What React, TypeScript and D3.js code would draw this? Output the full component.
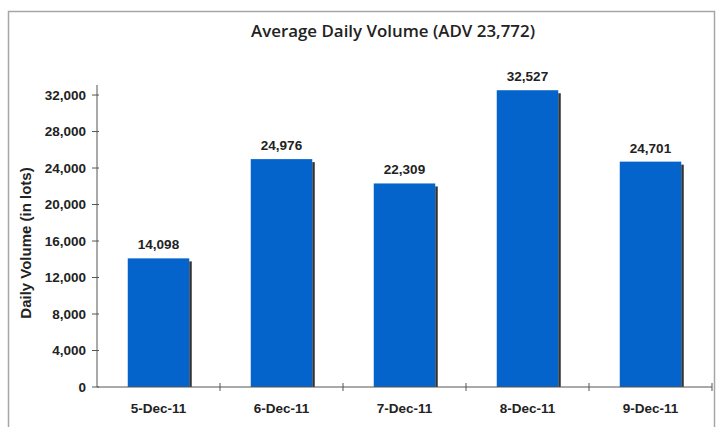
import React from "react";
import * as d3 from "d3";

const dates = ["5-Dec-11", "6-Dec-11", "7-Dec-11", "8-Dec-11", "9-Dec-11"];
const volumes = [14098, 24976, 22309, 32527, 24701];
const yTicks = [0, 4000, 8000, 12000, 16000, 20000, 24000, 28000, 32000];

const W = 723;
const H = 427;
const margin = { top: 85, right: 11, bottom: 40, left: 97 };

export default function App() {
  const innerW = W - margin.left - margin.right;
  const innerH = H - margin.top - margin.bottom;

  const x = d3.scaleBand<string>().domain(dates).range([0, innerW]).paddingInner(0.5).paddingOuter(0.25);
  const band = d3.scaleBand<string>().domain(dates).range([0, innerW]);
  const y = d3.scaleLinear().domain([0, 33100]).range([innerH, 0]);
  const fmt = d3.format(",");

  const font = "'Liberation Sans', Arial, sans-serif";
  const fs = 13.5;

  return (
    <svg
      width={W}
      height={H}
      style={{ position: "absolute", left: 0, top: 0, background: "#fff" }}
    >
      <rect x={8.5} y={11.5} width={706} height={430} fill="none" stroke="#a6a6a6" strokeWidth={1.5} />
      <text
        x={393}
        y={37}
        textAnchor="middle"
        fontFamily="'Open Sans', sans-serif"
        fontWeight={600}
        fontSize={17}
        textLength={284}
        lengthAdjust="spacingAndGlyphs"
        fill="#222"
      >
        Average Daily Volume (ADV 23,772)
      </text>
      <text
        transform={`translate(30.5,243) rotate(-90)`}
        textAnchor="middle"
        fontFamily={font}
        fontWeight="bold"
        fontSize={15}
        fill="#222"
      >
        Daily Volume (in lots)
      </text>
      <g transform={`translate(${margin.left},${margin.top})`}>
        {dates.map((d, i) => {
          const bx = x(d) as number;
          const by = y(volumes[i]);
          return (
            <g key={d}>
              <rect x={bx + x.bandwidth()} y={by + 3} width={2.5} height={innerH - by - 3} fill="#333" />
              <rect x={bx} y={by} width={x.bandwidth()} height={innerH - by} fill="#0563cc" />
              <text
                x={bx + x.bandwidth() / 2}
                y={by - 9}
                textAnchor="middle"
                fontFamily={font}
                fontWeight="bold"
                fontSize={fs}
                fill="#222"
              >
                {fmt(volumes[i])}
              </text>
              <text
                x={(band(d) as number) + band.bandwidth() / 2}
                y={innerH + 26}
                textAnchor="middle"
                fontFamily={font}
                fontWeight="bold"
                fontSize={fs}
                fill="#222"
              >
                {d}
              </text>
            </g>
          );
        })}
        <line x1={0} x2={0} y1={0} y2={innerH} stroke="#555" strokeWidth={1} />
        <line x1={0} x2={innerW} y1={innerH} y2={innerH} stroke="#555" strokeWidth={1} />
        {yTicks.map((t) => (
          <g key={t} transform={`translate(0,${y(t)})`}>
            <line x1={-5} x2={2} stroke="#555" />
            <text
              x={-11}
              dy="0.35em"
              textAnchor="end"
              fontFamily={font}
              fontWeight="bold"
              fontSize={fs}
              fill="#222"
            >
              {fmt(t)}
            </text>
          </g>
        ))}
        {dates.map((d) => (
          <line
            key={d}
            x1={(band(d) as number) + band.bandwidth()}
            x2={(band(d) as number) + band.bandwidth()}
            y1={innerH - 4}
            y2={innerH + 4}
            stroke="#555"
          />
        ))}
      </g>
    </svg>
  );
}
